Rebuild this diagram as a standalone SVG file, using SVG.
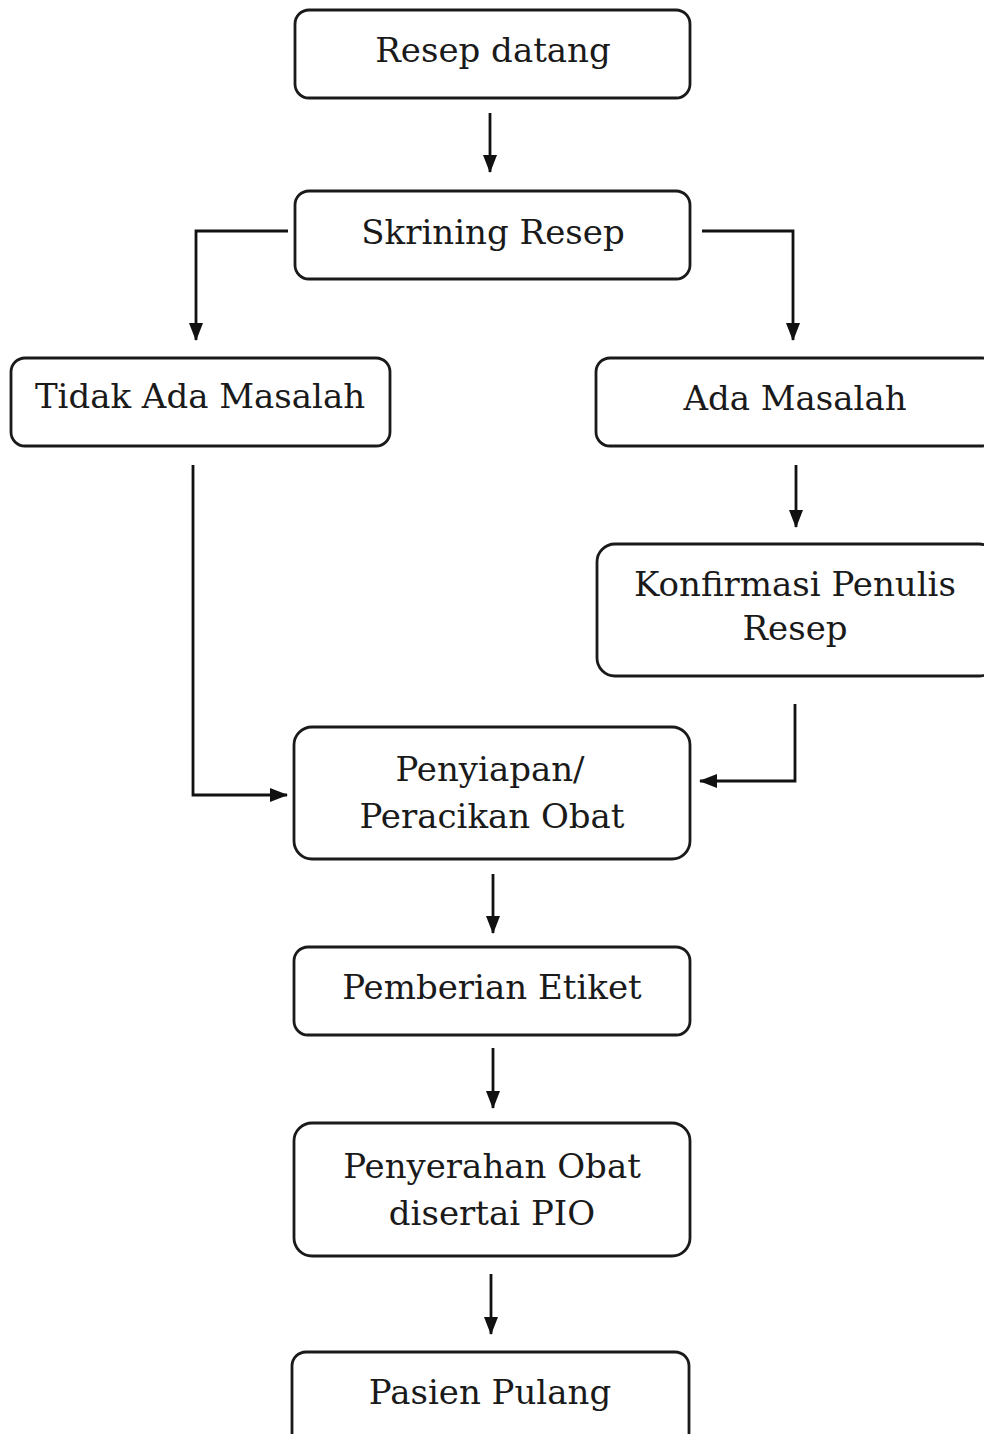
<svg xmlns="http://www.w3.org/2000/svg" width="984" height="1434" viewBox="0 0 984 1434">
<defs>
<style>
.box{fill:#fff;stroke:#1a1a1a;stroke-width:2.8}
.t{font-family:"DejaVu Serif","Liberation Serif",serif;font-size:34px;fill:#1a1a1a;text-anchor:middle}
.c{fill:none;stroke:#111;stroke-width:2.8}
</style>
<marker id="ah" viewBox="0 0 18 14" refX="17" refY="7" markerWidth="18" markerHeight="14" markerUnits="userSpaceOnUse" orient="auto">
<path d="M0,0 L18,7 L0,14 z" fill="#111"/>
</marker>
</defs>
<rect width="984" height="1434" fill="#fff"/>
<g id="connectors">
<path class="c" d="M490,113 V172" marker-end="url(#ah)"/>
<path class="c" d="M288,231 H196 V340" marker-end="url(#ah)"/>
<path class="c" d="M702,231 H793 V340" marker-end="url(#ah)"/>
<path class="c" d="M796,465 V527" marker-end="url(#ah)"/>
<path class="c" d="M193,465 V795 H287" marker-end="url(#ah)"/>
<path class="c" d="M795,704 V781 H700" marker-end="url(#ah)"/>
<path class="c" d="M493,874 V933" marker-end="url(#ah)"/>
<path class="c" d="M493,1048 V1108" marker-end="url(#ah)"/>
<path class="c" d="M491,1274 V1334" marker-end="url(#ah)"/>
</g>
<g id="n1"><rect class="box" x="295" y="10" width="395" height="88" rx="14"/><text class="t" x="493" y="62">Resep datang</text></g>
<g id="n2"><rect class="box" x="295" y="191" width="395" height="88" rx="14"/><text class="t" x="493" y="244">Skrining Resep</text></g>
<g id="n3"><rect class="box" x="11" y="358" width="379" height="88" rx="14"/><text class="t" x="200" y="408">Tidak Ada Masalah</text></g>
<g id="n4"><rect class="box" x="596" y="358" width="400" height="88" rx="14"/><text class="t" x="795" y="410">Ada Masalah</text></g>
<g id="n5"><rect class="box" x="597" y="544" width="400" height="132" rx="18"/><text class="t" x="795" y="596">Konfirmasi Penulis</text><text class="t" x="795" y="640">Resep</text></g>
<g id="n6"><rect class="box" x="294" y="727" width="396" height="132" rx="18"/><text class="t" x="490" y="781">Penyiapan/</text><text class="t" x="492" y="828">Peracikan Obat</text></g>
<g id="n7"><rect class="box" x="294" y="947" width="396" height="88" rx="14"/><text class="t" x="492" y="999">Pemberian Etiket</text></g>
<g id="n8"><rect class="box" x="294" y="1123" width="396" height="133" rx="18"/><text class="t" x="492" y="1178">Penyerahan Obat</text><text class="t" x="492" y="1225">disertai PIO</text></g>
<g id="n9"><rect class="box" x="292" y="1352" width="397" height="100" rx="14"/><text class="t" x="490" y="1404">Pasien Pulang</text></g>
</svg>
